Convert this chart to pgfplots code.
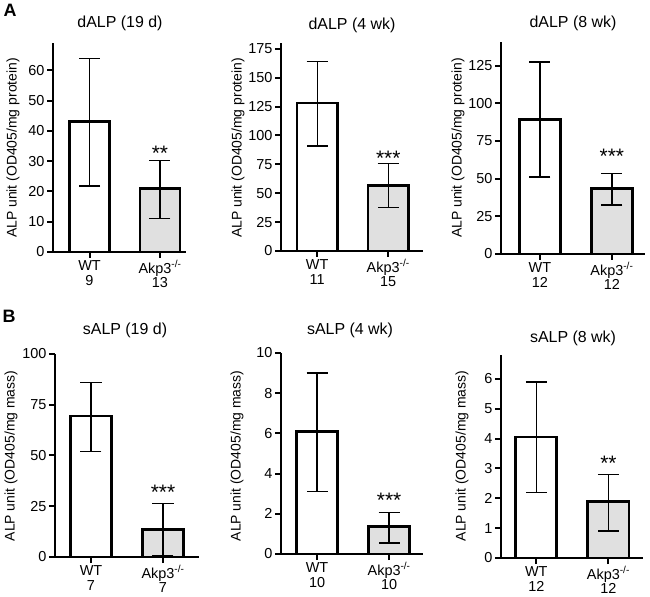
\documentclass[border=0pt]{standalone}
\usepackage{pgfplots}
\pgfplotsset{compat=1.18}
\usepackage{fontspec}
\setmainfont{Liberation Sans}
\definecolor{barg}{RGB}{224,224,224}
\pgfplotsset{
  panel/.style={
    scale only axis, anchor=south west,
    axis x line*=bottom, axis y line*=left,
    axis line style={line width=2.6bp, black},
    ymin=0, xtick={0,1},
    tick align=outside, major tick length=6bp,
    major tick style={line width=2bp, black},
    tick label style={font=\fontsize{14.5}{15}\selectfont},
    /pgf/number format/assume math mode=true,
    xticklabel style={align=center, yshift=1bp},
    yticklabel style={xshift=1bp},
    ybar, bar width=0.57, clip=false,
  },
  wbar/.style={bar shift=0pt, draw=black, fill=white, line width=2.8bp,
    error bars/.cd, y dir=both, y explicit,
    error bar style={line width=1.4bp, black},
    error mark options={rotate=90, mark size=10.5bp, line width=1.4bp, black}},
  gbar/.style={bar shift=0pt, draw=black, fill=barg, line width=2.8bp,
    error bars/.cd, y dir=both, y explicit,
    error bar style={line width=1.4bp, black},
    error mark options={rotate=90, mark size=10.5bp, line width=1.4bp, black}},
}
\tikzset{stars/.style={font=\fontsize{21}{21}\selectfont, anchor=center, yshift=-3.7bp}}
\newcommand{\ttl}{\fontsize{16}{16}\selectfont}
\newcommand{\ylab}{\fontsize{14}{14}\selectfont}
\newcommand{\ko}{Akp3\textsuperscript{-/-}}
\begin{document}
\begin{tikzpicture}
\path[use as bounding box] (0bp,0bp) rectangle (650bp,597bp);
% panel letters
\node[font=\fontsize{18}{18}\selectfont\bfseries] at (10bp,587bp) {A};
\node[font=\fontsize{18}{18}\selectfont\bfseries] at (9bp,281bp) {B};
% titles
\node[font=\ttl] at (120bp,574bp) {dALP (19 d)};
\node[font=\ttl] at (352bp,572bp) {dALP (4 wk)};
\node[font=\ttl] at (573bp,574bp) {dALP (8 wk)};
\node[font=\ttl] at (125bp,267bp) {sALP (19 d)};
\node[font=\ttl] at (350bp,267bp) {sALP (4 wk)};
\node[font=\ttl] at (573bp,259bp) {sALP (8 wk)};
% y labels
\node[font=\ylab, rotate=90] at (13bp,449bp) {ALP unit (OD405/mg protein)};
\node[font=\ylab, rotate=90] at (238bp,449bp) {ALP unit (OD405/mg protein)};
\node[font=\ylab, rotate=90] at (458bp,449bp) {ALP unit (OD405/mg protein)};
\node[font=\ylab, rotate=90] at (11bp,141bp) {ALP unit (OD405/mg mass)};
\node[font=\ylab, rotate=90] at (237bp,141bp) {ALP unit (OD405/mg mass)};
\node[font=\ylab, rotate=90] at (462bp,141bp) {ALP unit (OD405/mg mass)};

% A1
\begin{axis}[panel, at={(53bp,345bp)}, width=133bp, height=209bp,
  xmin=-0.518, xmax=1.369, ymax=69, ytick={0,10,...,60},
  xticklabels={{WT\\9},{\ko\\13}}]
\addplot+[wbar] coordinates {(0,43) += (0,20.8) -= (0,21.2)};
\addplot+[gbar] coordinates {(1,21) += (0,9.3) -= (0,10)};
\node[stars] at (axis cs:1,33.8) {**};
\end{axis}
% A2
\begin{axis}[panel, at={(281bp,346bp)}, width=142bp, height=208bp,
  xmin=-0.51, xmax=1.49, ymax=180, ytick={0,25,...,175},
  xticklabels={{WT\\11},{\ko\\15}}]
\addplot+[wbar] coordinates {(0,128) += (0,36) -= (0,37)};
\addplot+[gbar] coordinates {(1,57) += (0,18.5) -= (0,19.5)};
\node[stars] at (axis cs:1,83.2) {***};
\end{axis}
% A3
\begin{axis}[panel, at={(501bp,343bp)}, width=144bp, height=212bp,
  xmin=-0.54, xmax=1.46, ymax=140.7, ytick={0,25,...,125},
  xticklabels={{WT\\12},{\ko\\12}}]
\addplot+[wbar] coordinates {(0,89) += (0,38.5) -= (0,38)};
\addplot+[gbar] coordinates {(1,43.5) += (0,10) -= (0,11)};
\node[stars] at (axis cs:1,67.2) {***};
\end{axis}
% B1
\begin{axis}[panel, at={(55bp,40bp)}, width=144bp, height=203bp,
  xmin=-0.5, xmax=1.5, ymax=100, ytick={0,25,...,100},
  xticklabels={{WT\\7},{\ko\\7}}]
\addplot+[wbar] coordinates {(0,69.5) += (0,16.5) -= (0,17.5)};
\addplot+[gbar] coordinates {(1,13.5) += (0,12.8) -= (0,12.8)};
\node[stars] at (axis cs:1,33.5) {***};
\end{axis}
% B2
\begin{axis}[panel, at={(281bp,43bp)}, width=142bp, height=201bp,
  xmin=-0.5, xmax=1.47, ymax=10, ytick={0,2,...,10},
  xticklabels={{WT\\10},{\ko\\10}}]
\addplot+[wbar] coordinates {(0,6.1) += (0,2.9) -= (0,3.0)};
\addplot+[gbar] coordinates {(1,1.35) += (0,0.7) -= (0,0.8)};
\node[stars] at (axis cs:1,2.84) {***};
\end{axis}
% B3
\begin{axis}[panel, at={(501bp,39bp)}, width=142bp, height=203bp,
  xmin=-0.49, xmax=1.48, ymax=6.8, ytick={0,1,...,6},
  xticklabels={{WT\\12},{\ko\\12}}]
\addplot+[wbar] coordinates {(0,4.05) += (0,1.85) -= (0,1.85)};
\addplot+[gbar] coordinates {(1,1.88) += (0,0.92) -= (0,0.98)};
\node[stars] at (axis cs:1,3.31) {**};
\end{axis}
\end{tikzpicture}
\end{document}
